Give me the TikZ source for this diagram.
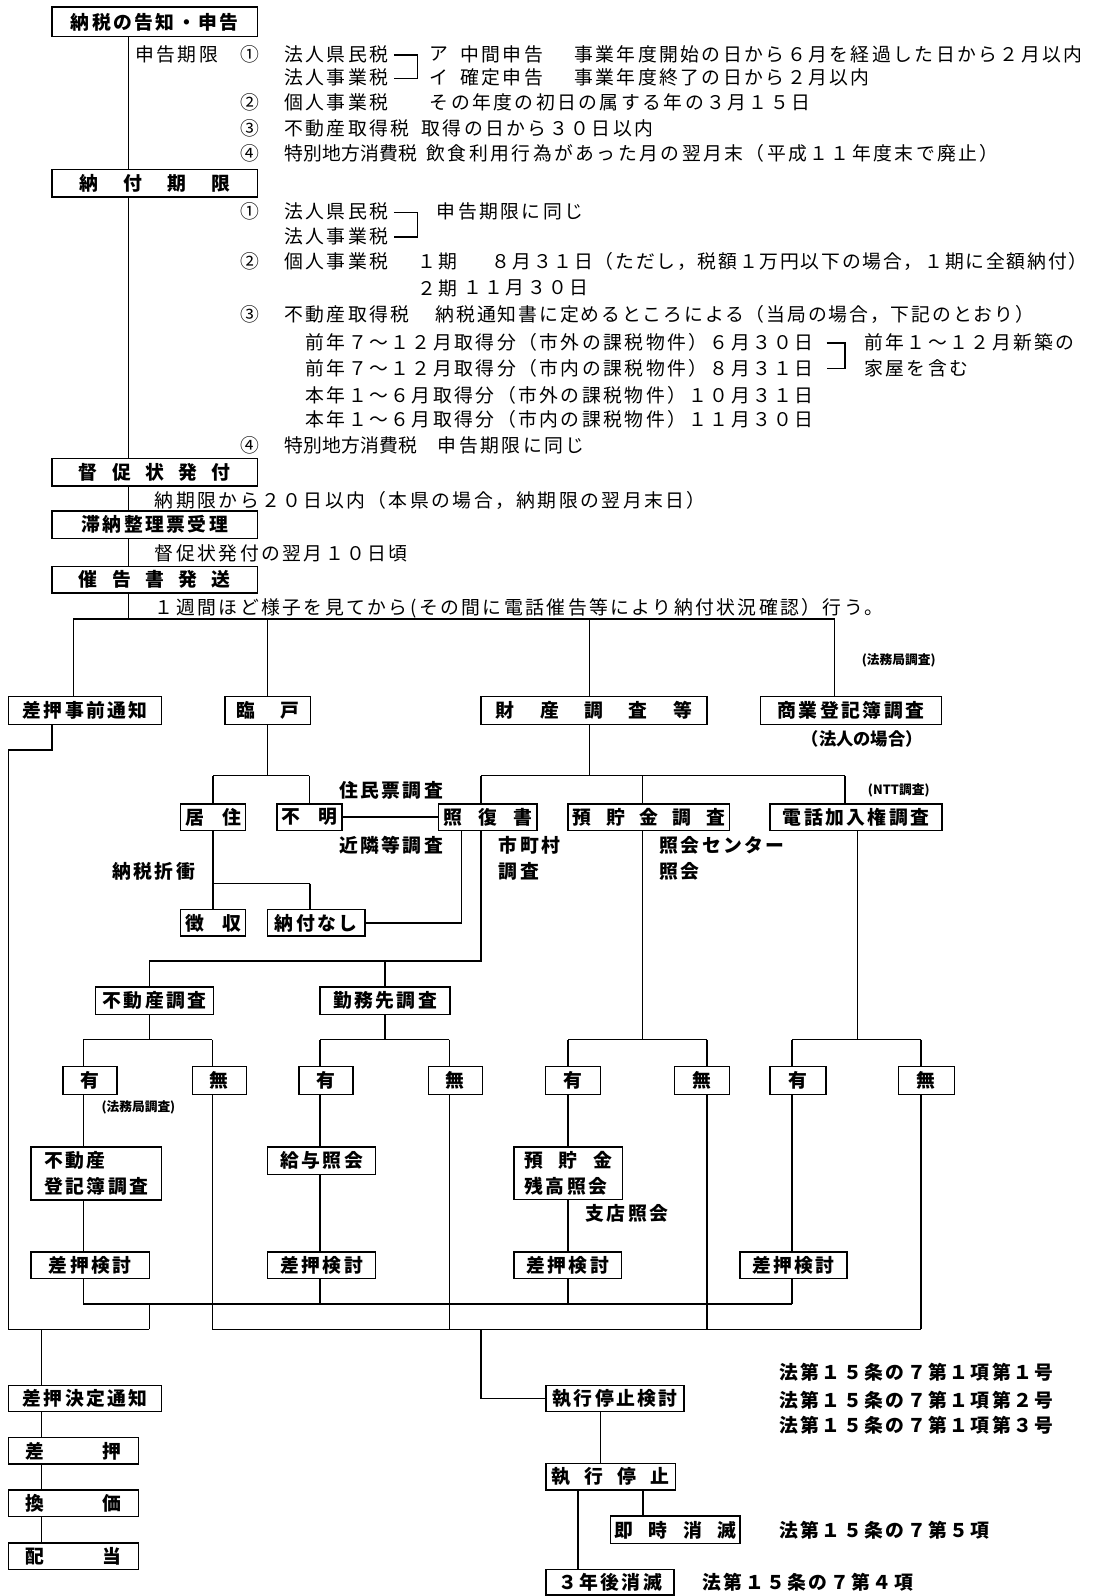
\documentclass[tikz,border=0pt]{standalone}
\usepackage{fontspec}
\newfontfamily\jp{Noto Sans CJK JP}[LetterSpace=13]
\newcommand\tx{\jp\fontsize{18.5}{26}\selectfont}
\newcommand\txb{\jp\bfseries\fontsize{18.5}{26}\selectfont}
\newcommand\sm{\jp\bfseries\addfontfeature{LetterSpace=0}\fontsize{12.5}{14}\selectfont}
\newcommand\spr[2]{\makebox[#1pt]{#2}}
\begin{document}
\begin{tikzpicture}[x=1pt,y=-1pt,
  box/.style={draw, line width=1.4pt, inner sep=0pt, font=\txb},
  lbl/.style={anchor=west, inner sep=0pt, font=\tx},
  lblb/.style={anchor=west, inner sep=0pt, font=\txb},
  small/.style={inner sep=0pt, font=\sm},
  conn/.style={line width=1.4pt}]
\fill[white] (0,0) rectangle (1074,1568);
\useasboundingbox (0,0) rectangle (1074,1568);

% ---------- top boxes ----------
\node[box, minimum width=202pt, minimum height=29pt] (B1) at (152,21.5) {納税の告知・申告};
\node[box, minimum width=202pt, minimum height=27pt] (B2) at (152,180) {\spr{148}{納\hfill 付\hfill 期\hfill 限}};
\node[box, minimum width=202pt, minimum height=27pt] (B3) at (152,464) {\spr{149}{督\hfill 促\hfill 状\hfill 発\hfill 付}};
\node[box, minimum width=202pt, minimum height=27pt] (B4) at (152,515.5) {滞納整理票受理};
\node[box, minimum width=202pt, minimum height=26pt] (B5) at (152,569.5) {\spr{149}{催\hfill 告\hfill 書\hfill 発\hfill 送}};

\coordinate (v0) at (126,608);
\draw[conn] (B1.south -| v0) -- (B2.north -| v0);
\draw[conn] (B2.south -| v0) -- (B3.north -| v0);
\draw[conn] (B3.south -| v0) -- (B4.north -| v0);
\draw[conn] (B4.south -| v0) -- (B5.north -| v0);
\draw[conn] (B5.south -| v0) -- (v0);

% ---------- section 1 text ----------
\node[lbl] (u1) at (132.8,53) {申告期限};
\node[lbl] (u2) at (236,53) {①};
\node[lbl] (u3) at (279,53) {法人県民税};
\node[lbl] (u4) at (422,53) {ア};
\node[lbl] (u5) at (452,53) {中間申告};
\node[lbl] (u6) at (564,53) {事業年度開始の日から６月を経過した日から２月以内};
\node[lbl] (u7) at (279,76) {法人事業税};
\node[lbl] (u8) at (422,76) {イ};
\node[lbl] (u9) at (452,76) {確定申告};
\node[lbl] (u10) at (564,76) {事業年度終了の日から２月以内};
\draw[conn] (387,54) -- (410,54) -- (410,77) -- (387,77);
\node[lbl] (u11) at (236,101) {②};
\node[lbl] (u12) at (279,101) {個人事業税};
\node[lbl] (u13) at (422,101) {その年度の初日の属する年の３月１５日};
\node[lbl] (u14) at (236,126) {③};
\node[lbl] (u15) at (279,126) {不動産取得税};
\node[lbl] (u16) at (414,126) {取得の日から３０日以内};
\node[lbl] (u17) at (236,151) {④};
\node[lbl, font=\tx\addfontfeature{LetterSpace=1}] (u18) at (279,151) {特別地方消費税};
\node[lbl] (u19) at (419,151) {飲食利用行為があった月の翌月末（平成１１年度末で廃止）};

% ---------- section 2 text ----------
\node[lbl] (w1) at (236,208) {①};
\node[lbl] (w2) at (279,208) {法人県民税};
\node[lbl] (w3) at (429,208) {申告期限に同じ};
\node[lbl] (w4) at (279,232) {法人事業税};
\draw[conn] (387,209) -- (410,209) -- (410,233) -- (387,233);
\node[lbl] (w5) at (236,257) {②};
\node[lbl] (w6) at (279,257) {個人事業税};
\node[lbl] (w7) at (410,257) {１期};
\node[lbl, font=\tx\addfontfeature{LetterSpace=9.4}] (w8) at (483,257) {８月３１日（ただし，税額１万円以下の場合，１期に全額納付）};
\node[lbl] (w9) at (410,283) {２期};
\node[lbl] (w10) at (455,283) {１１月３０日};
\node[lbl] (w11) at (236,309) {③};
\node[lbl] (w12) at (279,309) {不動産取得税};
\node[lbl, font=\tx\addfontfeature{LetterSpace=10}] (w13) at (428,309) {納税通知書に定めるところによる（当局の場合，下記のとおり）};
\node[lbl] (w14) at (300,336) {前年７～１２月取得分（市外の課税物件）６月３０日};
\node[lbl] (w15) at (300,362) {前年７～１２月取得分（市内の課税物件）８月３１日};
\draw[conn] (812,337) -- (830,337) -- (830,362) -- (812,362);
\node[lbl] (w16) at (849,336) {前年１～１２月新築の};
\node[lbl] (w17) at (849,362) {家屋を含む};
\node[lbl] (w18) at (300,388) {本年１～６月取得分（市外の課税物件）１０月３１日};
\node[lbl] (w19) at (300,412) {本年１～６月取得分（市内の課税物件）１１月３０日};
\node[lbl] (w20) at (236,438) {④};
\node[lbl, font=\tx\addfontfeature{LetterSpace=1}] (w21) at (279,438) {特別地方消費税};
\node[lbl] (w22) at (430,438) {申告期限に同じ};

\node[lbl] (x1) at (152,492) {納期限から２０日以内（本県の場合，納期限の翌月末日）};
\node[lbl] (x2) at (152,544) {督促状発付の翌月１０日頃};
\node[lbl] (x3) at (152,598) {１週間ほど様子を見てから(その間に電話催告等により納付状況確認）行う。};

% ---------- second level ----------
\node[box, minimum width=150pt, minimum height=27pt] (N1) at (83.6,698) {差押事前通知};
\node[box, minimum width=84pt, minimum height=27pt] (N2) at (263,698) {\spr{62}{臨\hfill 戸}};
\node[box, minimum width=222pt, minimum height=27pt] (N3) at (583.4,698) {\spr{193}{財\hfill 産\hfill 調\hfill 査\hfill 等}};
\node[box, minimum width=178pt, minimum height=27pt] (N4) at (836,698) {商業登記簿調査};
\node[lblb, font=\txb\fontsize{17}{20}\selectfont\addfontfeature{LetterSpace=0}] (n5) at (787.5,725.5) {（法人の場合）};
\node[small] (n6) at (883,648.6) {(法務局調査)};

\coordinate (a1) at (72,608);
\coordinate (a2) at (263,608);
\coordinate (a3) at (579,608);
\coordinate (a4) at (820,608);
\draw[conn] (a1) -- (a4);
\draw[conn] (a1) -- (a1 |- N1.north);
\draw[conn] (a2) -- (N2.north);
\draw[conn] (a3) -- (a3 |- N3.north);
\draw[conn] (a4) -- (a4 |- N4.north);

% ---------- third level ----------
\node[box, minimum width=63.4pt, minimum height=26pt] (J1) at (209.3,802.8) {\spr{55}{居\hfill 住}};
\node[box, minimum width=64pt, minimum height=26pt] (J2) at (304,802.8) {\spr{55}{不\hfill 明}};
\node[box, minimum width=96.6pt, minimum height=26pt] (J3) at (479.3,802.8) {\spr{87}{照\hfill 復\hfill 書}};
\node[box, minimum width=158.6pt, minimum height=26pt] (J4) at (637.5,802.8) {\spr{150}{預\hfill 貯\hfill 金\hfill 調\hfill 査}};
\node[box, minimum width=169pt, minimum height=26pt] (J5) at (841,802.8) {電話加入権調査};
\node[small] (j6) at (883,776.3) {(NTT調査)};
\node[lblb] (j7) at (333,776) {住民票調査};
\node[lblb] (j8) at (333,830) {近隣等調査};
\node[lblb] (j9) at (490,830) {市町村};
\node[lblb] (j10) at (490,856.5) {調査};
\node[lblb] (j11) at (110,856.5) {納税折衝};
\node[lblb] (j12) at (647.8,830.3) {照会センター};
\node[lblb] (j13) at (647.8,856.6) {照会};

\coordinate (f0) at (263,762);
\coordinate (f1) at (209.3,762);
\coordinate (f2) at (304,762);
\draw[conn] (N2.south) -- (f0);
\draw[conn] (f1) -- (f2);
\draw[conn] (f1) -- (f1 |- J1.north);
\draw[conn] (f2) -- (f2 |- J2.north);
\draw[conn] (J2.east) -- (J3.west);

\coordinate (i0) at (579,762);
\coordinate (i1) at (472.4,762);
\coordinate (i2) at (631.3,762);
\coordinate (i3) at (830,762);
\draw[conn] (N3.south -| i0) -- (i0);
\draw[conn] (i1) -- (i3);
\draw[conn] (i1) -- (i1 |- J3.north);
\draw[conn] (i2) -- (i2 |- J4.north);
\draw[conn] (i3) -- (i3 |- J5.north);

% ---------- 徴収 / 納付なし ----------
\node[box, minimum width=63.4pt, minimum height=26pt] (K1) at (209.3,906.7) {\spr{55}{徴\hfill 収}};
\node[box, minimum width=95.8pt, minimum height=26pt] (K2) at (310.7,906.7) {納付なし};
\coordinate (g0) at (209.3,868);
\coordinate (g1) at (304.5,868);
\draw[conn] (J1.south -| g0) -- (g0) -- (g1);
\draw[conn] (g0) -- (g0 |- K1.north);
\draw[conn] (g1) -- (g1 |- K2.north);
\coordinate (h0) at (453.4,906.7);
\draw[conn] (K2.east) -- (h0) -- (h0 |- J3.south);

% ---------- 不動産調査 / 勤務先調査 ----------
\node[box, minimum width=116pt, minimum height=27pt] (M1) at (151.75,983.3) {不動産調査};
\node[box, minimum width=127.5pt, minimum height=27pt] (M2) at (378.25,983.3) {勤務先調査};
\coordinate (j0) at (472.4,944.3);
\coordinate (j1) at (146.6,944.3);
\coordinate (j2) at (378.25,944.3);
\draw[conn] (J3.south -| j0) -- (j0) -- (j1) -- (j1 |- M1.north);
\draw[conn] (j2) -- (M2.north);

% ---------- 有 / 無 ----------
\node[box, minimum width=53pt, minimum height=28pt] (Y1) at (88.4,1061.5) {有};
\node[box, minimum width=53pt, minimum height=28pt] (Y2) at (215.5,1061.5) {無};
\node[box, minimum width=53pt, minimum height=28pt] (Y3) at (320.3,1061.5) {有};
\node[box, minimum width=53pt, minimum height=28pt] (Y4) at (447.4,1061.5) {無};
\node[box, minimum width=54pt, minimum height=28pt] (Y5) at (563,1061.5) {有};
\node[box, minimum width=54pt, minimum height=28pt] (Y6) at (689.5,1061.5) {無};
\node[box, minimum width=55pt, minimum height=28pt] (Y7) at (784,1061.5) {有};
\node[box, minimum width=55pt, minimum height=28pt] (Y8) at (910,1061.5) {無};
\node[small] (y9) at (136,1087.5) {(法務局調査)};

\coordinate (k0) at (146.6,1021.3);
\coordinate (k1) at (82,1021.3);
\coordinate (k2) at (208.6,1021.3);
\draw[conn] (M1.south -| k0) -- (k0);
\draw[conn] (k1) -- (k2);
\draw[conn] (k1) -- (k1 |- Y1.north);
\draw[conn] (k2) -- (k2 |- Y2.north);

\coordinate (l0) at (378.25,1021.3);
\coordinate (l1) at (314.5,1021.3);
\coordinate (l2) at (441.4,1021.3);
\draw[conn] (M2.south) -- (l0);
\draw[conn] (l1) -- (l2);
\draw[conn] (l1) -- (l1 |- Y3.north);
\draw[conn] (l2) -- (l2 |- Y4.north);

\coordinate (m0) at (631.3,1021.3);
\coordinate (m1) at (558.2,1021.3);
\coordinate (m2) at (694.4,1021.3);
\draw[conn] (J4.south -| m0) -- (m0);
\draw[conn] (m1) -- (m2);
\draw[conn] (m1) -- (m1 |- Y5.north);
\draw[conn] (m2) -- (m2 |- Y6.north);

\coordinate (n0) at (842.7,1021.3);
\coordinate (n1) at (778,1021.3);
\coordinate (n2) at (904.7,1021.3);
\draw[conn] (J5.south -| n0) -- (n0);
\draw[conn] (n1) -- (n2);
\draw[conn] (n1) -- (n1 |- Y7.north);
\draw[conn] (n2) -- (n2 |- Y8.north);

% ---------- 照会 boxes ----------
\node[box, minimum width=128.3pt, minimum height=52pt, align=left] (P1) at (94.5,1153) {不動産\\登記簿調査};
\node[box, minimum width=106pt, minimum height=27pt] (P2) at (316,1140.2) {給与照会};
\node[box, minimum width=106.6pt, minimum height=51.5pt, align=left] (P3) at (558.3,1152.8) {\spr{86}{預\hfill 貯\hfill 金}\\残高照会};
\node[lblb] (p4) at (575,1192) {支店照会};

% ---------- 差押検討 ----------
\node[box, minimum width=116.3pt, minimum height=26pt] (Q1) at (88.5,1243) {差押検討};
\node[box, minimum width=106pt, minimum height=26pt] (Q2) at (316,1243) {差押検討};
\node[box, minimum width=106pt, minimum height=26pt] (Q3) at (557.8,1243) {差押検討};
\node[box, minimum width=105pt, minimum height=26pt] (Q4) at (779.5,1243) {差押検討};

\coordinate (d1) at (82,1281);
\coordinate (d2) at (778,1281);
\draw[conn] (d1) -- (d2);
\draw[conn] (Y1.south -| k1) -- (P1.north -| k1);
\draw[conn] (P1.south -| k1) -- (Q1.north -| k1);
\draw[conn] (Q1.south -| k1) -- (d1);
\draw[conn] (Y3.south -| l1) -- (P2.north -| l1);
\draw[conn] (P2.south -| l1) -- (Q2.north -| l1);
\draw[conn] (Q2.south -| l1) -- (l1 |- d1);
\draw[conn] (Y5.south -| m1) -- (P3.north -| m1);
\draw[conn] (P3.south -| m1) -- (Q3.north -| m1);
\draw[conn] (Q3.south -| m1) -- (m1 |- d1);
\draw[conn] (Y7.south -| n1) -- (Q4.north -| n1);
\draw[conn] (Q4.south -| n1) -- (d2);

% ---------- left column: 差押 ----------
\coordinate (c1) at (51,737);
\coordinate (c2) at (8.6,737);
\coordinate (c3) at (8.6,1306);
\coordinate (c4) at (146.6,1306);
\draw[conn] (N1.south -| c1) -- (c1) -- (c2) -- (c3) -- (c4);
\draw[conn] (c4) -- (c4 |- d1);

\node[box, minimum width=150pt, minimum height=26pt] (S1) at (83.6,1374) {差押決定通知};
\node[box, minimum width=127.4pt, minimum height=26pt] (S2) at (72.3,1425.5) {\spr{94}{差\hfill 押}};
\node[box, minimum width=127.4pt, minimum height=26pt] (S3) at (72.3,1477) {\spr{94}{換\hfill 価}};
\node[box, minimum width=127.4pt, minimum height=26pt] (S4) at (72.3,1529) {\spr{94}{配\hfill 当}};
\coordinate (e1) at (40.7,1306);
\draw[conn] (e1) -- (e1 |- S1.north);
\draw[conn] (S1.south -| e1) -- (S2.north -| e1);
\draw[conn] (S2.south -| e1) -- (S3.north -| e1);
\draw[conn] (S3.south -| e1) -- (S4.north -| e1);

% ---------- right column: 執行停止 ----------
\coordinate (o1) at (208.6,1306);
\coordinate (o2) at (904.7,1306);
\draw[conn] (o1) -- (o2);
\draw[conn] (Y2.south -| o1) -- (o1);
\draw[conn] (Y4.south -| l2) -- (l2 |- o1);
\draw[conn] (Y6.south -| m2) -- (m2 |- o1);
\draw[conn] (Y8.south -| n2) -- (o2);

\node[box, minimum width=135.5pt, minimum height=26pt] (T1) at (604.3,1374) {執行停止検討};
\node[box, minimum width=127pt, minimum height=26pt] (T2) at (600,1451) {\spr{116}{執\hfill 行\hfill 停\hfill 止}};
\node[box, minimum width=127pt, minimum height=27pt] (T3) at (663.5,1503) {\spr{120}{即\hfill 時\hfill 消\hfill 滅}};
\node[box, minimum width=125.5pt, minimum height=25pt] (T4) at (599.3,1554.3) {３年後消滅};
\coordinate (o3) at (472.6,1306);
\coordinate (o4) at (472.6,1374);
\draw[conn] (o3) -- (o4) -- (T1.west);
\coordinate (p0) at (590,1374);
\coordinate (p1) at (568,1451);
\coordinate (p2) at (631.8,1451);
\draw[conn] (T1.south -| p0) -- (T2.north -| p0);
\draw[conn] (T2.south -| p1) -- (T4.north -| p1);
\draw[conn] (T2.south -| p2) -- (T3.north -| p2);

\node[lblb] (r1) at (765.5,1347.8) {法第１５条の７第１項第１号};
\node[lblb] (r2) at (765.5,1375.7) {法第１５条の７第１項第２号};
\node[lblb] (r3) at (765.5,1400) {法第１５条の７第１項第３号};
\node[lblb] (r4) at (765.5,1503.6) {法第１５条の７第５項};
\node[lblb] (r5) at (690,1554) {法第１５条の７第４項};
\end{tikzpicture}
\end{document}
